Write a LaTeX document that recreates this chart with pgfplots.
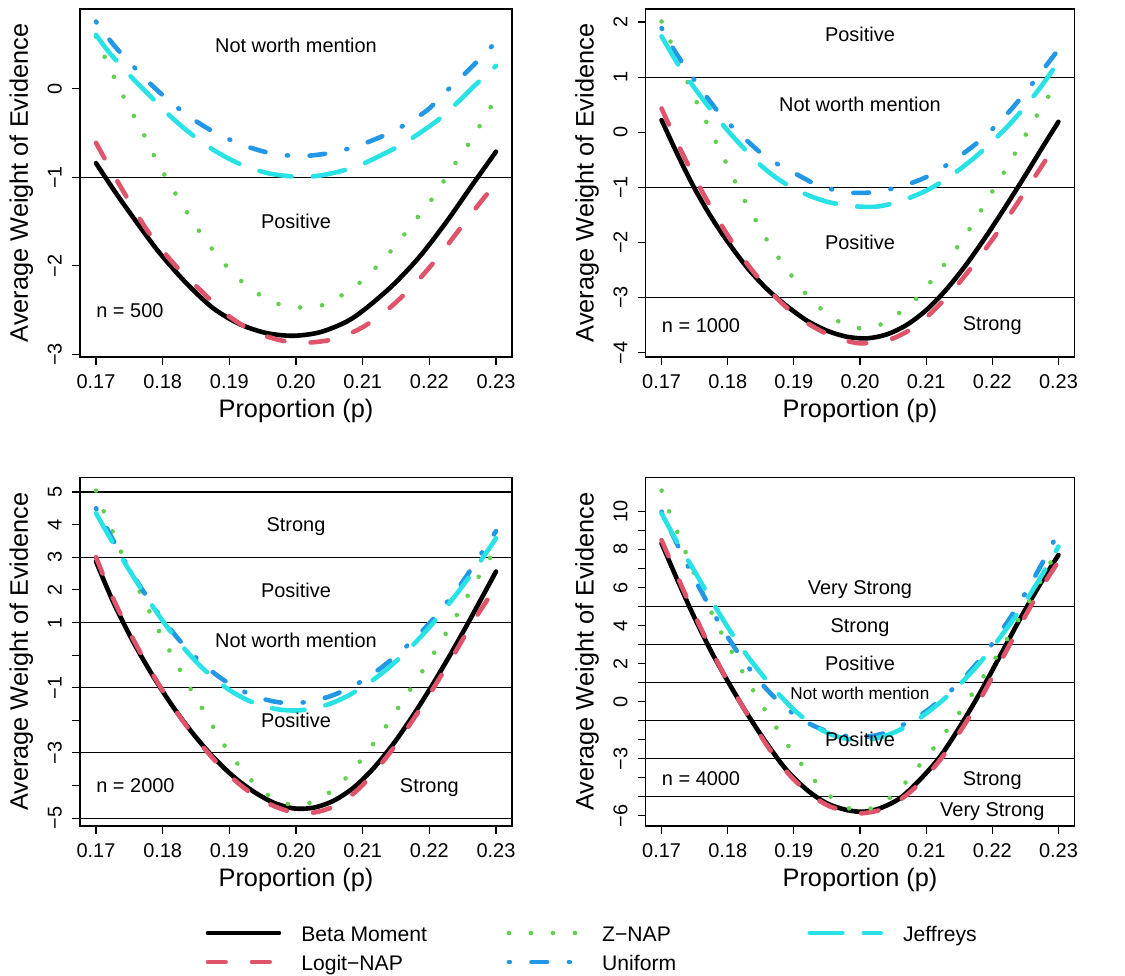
\documentclass[border=0pt]{standalone}
\usepackage{fontspec}
\setmainfont{Liberation Sans}
\usepackage{pgfplots}
\pgfplotsset{compat=1.18}
\definecolor{cRed}{HTML}{DF536B}
\definecolor{cGreen}{HTML}{61D04F}
\definecolor{cBlue}{HTML}{2297E6}
\definecolor{cCyan}{HTML}{28E2E5}
\tikzset{
  sBeta/.style={black, line width=2.3bp, line cap=round, line join=round},
  sLogit/.style={cRed, line width=2.3bp, line cap=round, dash pattern=on 8.8bp off 13.2bp},
  sZ/.style={cGreen, line width=2.3bp, line cap=round, dash pattern=on 0bp off 11bp},
  sUnif/.style={cBlue, line width=2.3bp, line cap=round, dash pattern=on 0.5bp off 10.8bp on 7.8bp off 10.9bp},
  sJeff/.style={cCyan, line width=2.3bp, line cap=round, dash pattern=on 16.3bp off 10.7bp},
  hline/.style={black, line width=0.55bp},
  ann/.style={font=\fontsize{10}{12}\selectfont, inner sep=0pt, text height=7.2bp, text depth=0pt},
}
\pgfplotsset{
  panel/.style={
    anchor=south west, scale only axis,
    xmin=0.1676, xmax=0.2324,
    xtick={0.17,0.18,0.19,0.2,0.21,0.22,0.23},
    xticklabels={0.17,0.18,0.19,0.20,0.21,0.22,0.23},
    tick pos=left, tick align=outside, major tick length=4bp,
    axis line style={line width=0.55bp},
    every tick/.style={black, line width=0.55bp},
    tick label style={font=\fontsize{10}{12}\selectfont},
    xticklabel style={anchor=base, inner sep=0pt},
    xticklabel shift=11.7bp,
    yticklabel style={rotate=90, anchor=base, inner sep=0pt},
    yticklabel shift=5.2bp,
    label style={font=\fontsize{12.7}{15}\selectfont},
    xlabel={Proportion (p)},
    ylabel={Average Weight of Evidence},
    xlabel style={at={([yshift=-30bp]axis description cs:0.5,0)}, anchor=base},
    ylabel style={at={([xshift=-26bp]axis description cs:0,0.5)}, anchor=base},
    clip=true,
  },
}
\begin{document}
\begin{tikzpicture}
\useasboundingbox (0,0) rectangle (562.5bp,-488bp);

% ---------------- Panel 1: n = 500
\begin{axis}[panel, at={(40bp,-178.5bp)}, width=216bp, height=174bp,
  ymin=-3.03, ymax=0.902, ytick={-3,-2,-1,0}, yticklabels={−3,−2,−1,0}]
\addplot[hline, forget plot] coordinates {(0.16,-1) (0.24,-1)};
\addplot[sBeta, smooth] coordinates {(0.1700,-0.84) (0.1731,-1.19) (0.1766,-1.56) (0.1796,-1.86) (0.1836,-2.20) (0.1876,-2.48) (0.1916,-2.66) (0.1956,-2.76) (0.1996,-2.79) (0.2036,-2.75) (0.2076,-2.63) (0.2105,-2.48) (0.2145,-2.22) (0.2185,-1.90) (0.2225,-1.51) (0.2265,-1.08) (0.2300,-0.71)};
\addplot[sLogit, smooth] coordinates {(0.1700,-0.61) (0.1731,-1.03) (0.1776,-1.59) (0.1816,-1.97) (0.1856,-2.27) (0.1896,-2.55) (0.1936,-2.74) (0.1976,-2.84) (0.2011,-2.87) (0.2056,-2.83) (0.2096,-2.71) (0.2135,-2.51) (0.2175,-2.23) (0.2210,-1.93) (0.2245,-1.59) (0.2280,-1.25) (0.2300,-1.07)};
\addplot[sZ, smooth] coordinates {(0.1700,0.59) (0.1713,0.36) (0.1726,0.15) (0.1740,-0.07) (0.1755,-0.28) (0.1770,-0.49) (0.1784,-0.71) (0.1799,-0.92) (0.1815,-1.13) (0.1831,-1.33) (0.1848,-1.53) (0.1866,-1.73) (0.1885,-1.91) (0.1906,-2.09) (0.1929,-2.24) (0.1955,-2.37) (0.1982,-2.45) (0.2012,-2.47) (0.2042,-2.44) (0.2069,-2.33) (0.2094,-2.20) (0.2117,-2.04) (0.2138,-1.87) (0.2158,-1.69) (0.2177,-1.50) (0.2197,-1.32) (0.2215,-1.12) (0.2232,-0.92) (0.2249,-0.73) (0.2267,-0.53) (0.2283,-0.32) (0.2300,-0.11)};
\addplot[sUnif, smooth] coordinates {(0.1700,0.76) (0.1726,0.50) (0.1754,0.27) (0.1784,0.04) (0.1815,-0.17) (0.1851,-0.37) (0.1885,-0.52) (0.1926,-0.65) (0.1964,-0.73) (0.2006,-0.76) (0.2047,-0.73) (0.2086,-0.66) (0.2125,-0.55) (0.2160,-0.42) (0.2197,-0.24) (0.2228,-0.01) (0.2260,0.22) (0.2300,0.53)};
\addplot[sJeff, smooth] coordinates {(0.1700,0.61) (0.1721,0.40) (0.1756,0.11) (0.1781,-0.08) (0.1806,-0.27) (0.1836,-0.47) (0.1876,-0.69) (0.1916,-0.85) (0.1956,-0.95) (0.1996,-0.99) (0.2036,-0.98) (0.2086,-0.89) (0.2125,-0.76) (0.2165,-0.60) (0.2210,-0.37) (0.2240,-0.17) (0.2267,0.03) (0.2300,0.26)};
\node[ann] at (axis cs:0.2,0.49) {Not worth mention};
\node[ann] at (axis cs:0.2,-1.5) {Positive};
\node[ann, anchor=west] at (axis cs:0.17,-2.5) {n = 500};
\end{axis}

% ---------------- Panel 2: n = 1000
\begin{axis}[panel, at={(322.85bp,-178.5bp)}, width=214.3bp, height=174bp,
  ymin=-4.078, ymax=2.236, ytick={-4,-3,-2,-1,0,1,2}, yticklabels={−4,−3,−2,−1,0,1,2}]
\addplot[hline, forget plot] coordinates {(0.16,1) (0.24,1)};
\addplot[hline, forget plot] coordinates {(0.16,-1) (0.24,-1)};
\addplot[hline, forget plot] coordinates {(0.16,-3) (0.24,-3)};
\addplot[sBeta, smooth] coordinates {(0.1700,0.22) (0.1724,-0.40) (0.1749,-1.00) (0.1774,-1.52) (0.1799,-1.97) (0.1829,-2.45) (0.1859,-2.84) (0.1889,-3.15) (0.1920,-3.42) (0.1950,-3.60) (0.1980,-3.71) (0.2010,-3.74) (0.2040,-3.67) (0.2070,-3.50) (0.2100,-3.23) (0.2130,-2.86) (0.2160,-2.41) (0.2190,-1.90) (0.2220,-1.35) (0.2250,-0.78) (0.2275,-0.29) (0.2300,0.19)};
\addplot[sLogit, smooth] coordinates {(0.1700,0.43) (0.1724,-0.20) (0.1749,-0.80) (0.1774,-1.35) (0.1799,-1.85) (0.1829,-2.38) (0.1859,-2.82) (0.1889,-3.18) (0.1920,-3.46) (0.1950,-3.66) (0.1975,-3.77) (0.2000,-3.83) (0.2030,-3.80) (0.2050,-3.74) (0.2075,-3.59) (0.2100,-3.36) (0.2125,-3.07) (0.2150,-2.73) (0.2175,-2.35) (0.2200,-1.95) (0.2225,-1.52) (0.2250,-1.07) (0.2275,-0.61) (0.2300,-0.15)};
\addplot[sZ, smooth] coordinates {(0.1700,2.01) (0.1713,1.66) (0.1738,0.95) (0.1751,0.60) (0.1765,0.25) (0.1779,-0.10) (0.1793,-0.44) (0.1807,-0.79) (0.1821,-1.14) (0.1837,-1.48) (0.1852,-1.81) (0.1869,-2.14) (0.1887,-2.45) (0.1906,-2.75) (0.1926,-3.04) (0.1949,-3.28) (0.1975,-3.48) (0.2004,-3.56) (0.2033,-3.48) (0.2059,-3.28) (0.2082,-3.06) (0.2103,-2.77) (0.2123,-2.47) (0.2142,-2.17) (0.2160,-1.86) (0.2177,-1.54) (0.2193,-1.21) (0.2210,-0.88) (0.2226,-0.56) (0.2242,-0.22) (0.2258,0.11) (0.2274,0.44) (0.2291,0.77) (0.2300,0.95)};
\addplot[sUnif, smooth] coordinates {(0.1700,1.89) (0.1719,1.49) (0.1746,1.01) (0.1779,0.47) (0.1800,0.18) (0.1839,-0.26) (0.1864,-0.50) (0.1910,-0.80) (0.1938,-0.97) (0.1980,-1.09) (0.2019,-1.09) (0.2060,-0.99) (0.2099,-0.82) (0.2133,-0.58) (0.2169,-0.27) (0.2196,0.01) (0.2229,0.42) (0.2261,0.89) (0.2284,1.25) (0.2300,1.50)};
\addplot[sJeff, smooth] coordinates {(0.1700,1.74) (0.1725,1.23) (0.1750,0.80) (0.1775,0.40) (0.1800,0.03) (0.1825,-0.30) (0.1850,-0.60) (0.1875,-0.84) (0.1900,-1.02) (0.1925,-1.16) (0.1950,-1.26) (0.1975,-1.32) (0.2000,-1.35) (0.2025,-1.35) (0.2050,-1.29) (0.2075,-1.19) (0.2100,-1.06) (0.2125,-0.89) (0.2150,-0.68) (0.2175,-0.44) (0.2200,-0.17) (0.2225,0.13) (0.2250,0.47) (0.2275,0.85) (0.2300,1.28)};
\node[ann] at (axis cs:0.2,1.78) {Positive};
\node[ann] at (axis cs:0.2,0.5) {Not worth mention};
\node[ann] at (axis cs:0.2,-2) {Positive};
\node[ann, anchor=west] at (axis cs:0.17,-3.5) {n = 1000};
\node[ann] at (axis cs:0.22,-3.47) {Strong};
\end{axis}

% ---------------- Panel 3: n = 2000
\begin{axis}[panel, at={(40bp,-413bp)}, width=216bp, height=174.35bp,
  ymin=-5.24, ymax=5.45, ytick={-5,-4,-3,-2,-1,0,1,2,3,4,5}, yticklabels={−5,{},−3,{},−1,{},1,2,3,4,5}]
\addplot[hline, forget plot] coordinates {(0.16,5) (0.24,5)};
\addplot[hline, forget plot] coordinates {(0.16,3) (0.24,3)};
\addplot[hline, forget plot] coordinates {(0.16,1) (0.24,1)};
\addplot[hline, forget plot] coordinates {(0.16,-1) (0.24,-1)};
\addplot[hline, forget plot] coordinates {(0.16,-3) (0.24,-3)};
\addplot[hline, forget plot] coordinates {(0.16,-5) (0.24,-5)};
\addplot[sBeta, smooth] coordinates {(0.1700,2.87) (0.1726,1.62) (0.1756,0.40) (0.1786,-0.66) (0.1816,-1.60) (0.1846,-2.42) (0.1876,-3.13) (0.1906,-3.72) (0.1936,-4.18) (0.1966,-4.52) (0.1996,-4.70) (0.2026,-4.68) (0.2056,-4.47) (0.2086,-4.07) (0.2115,-3.50) (0.2145,-2.75) (0.2175,-1.87) (0.2205,-0.90) (0.2235,0.14) (0.2265,1.24) (0.2300,2.56)};
\addplot[sLogit, smooth] coordinates {(0.1700,3.00) (0.1726,1.72) (0.1756,0.48) (0.1786,-0.62) (0.1816,-1.60) (0.1846,-2.45) (0.1876,-3.18) (0.1906,-3.80) (0.1936,-4.28) (0.1966,-4.62) (0.1996,-4.82) (0.2026,-4.83) (0.2056,-4.65) (0.2086,-4.25) (0.2115,-3.65) (0.2145,-2.88) (0.2175,-2.00) (0.2205,-1.05) (0.2235,-0.05) (0.2265,1.00) (0.2300,2.10)};
\addplot[sZ, smooth] coordinates {(0.1700,5.04) (0.1711,4.43) (0.1724,3.84) (0.1736,3.24) (0.1750,2.64) (0.1763,2.05) (0.1777,1.47) (0.1791,0.87) (0.1806,0.30) (0.1821,-0.27) (0.1836,-0.83) (0.1852,-1.39) (0.1869,-1.96) (0.1885,-2.52) (0.1902,-3.06) (0.1921,-3.55) (0.1942,-4.03) (0.1967,-4.41) (0.1995,-4.59) (0.2024,-4.51) (0.2051,-4.20) (0.2074,-3.79) (0.2094,-3.31) (0.2113,-2.80) (0.2132,-2.27) (0.2149,-1.75) (0.2166,-1.22) (0.2184,-0.67) (0.2201,-0.13) (0.2218,0.43) (0.2234,0.98) (0.2250,1.54) (0.2265,2.10) (0.2282,2.66) (0.2298,3.22) (0.2300,3.25)};
\addplot[sUnif, smooth] coordinates {(0.1700,4.50) (0.1725,3.55) (0.1750,2.65) (0.1775,1.83) (0.1800,1.10) (0.1825,0.46) (0.1850,-0.08) (0.1875,-0.52) (0.1900,-0.88) (0.1925,-1.15) (0.1950,-1.34) (0.1975,-1.45) (0.2000,-1.47) (0.2025,-1.41) (0.2050,-1.27) (0.2075,-1.06) (0.2100,-0.78) (0.2125,-0.43) (0.2150,-0.02) (0.2175,0.45) (0.2200,0.97) (0.2225,1.58) (0.2250,2.25) (0.2275,3.02) (0.2300,3.80)};
\addplot[sJeff, smooth] coordinates {(0.1700,4.35) (0.1725,3.45) (0.1750,2.60) (0.1775,1.80) (0.1800,1.05) (0.1825,0.38) (0.1850,-0.20) (0.1875,-0.68) (0.1900,-1.07) (0.1925,-1.36) (0.1950,-1.56) (0.1975,-1.67) (0.2000,-1.70) (0.2025,-1.64) (0.2050,-1.50) (0.2075,-1.28) (0.2100,-0.98) (0.2125,-0.62) (0.2150,-0.19) (0.2175,0.30) (0.2200,0.85) (0.2225,1.46) (0.2250,2.12) (0.2275,2.83) (0.2300,3.58)};
\node[ann] at (axis cs:0.2,4) {Strong};
\node[ann] at (axis cs:0.2,2) {Positive};
\node[ann] at (axis cs:0.2,0.46) {Not worth mention};
\node[ann] at (axis cs:0.2,-2) {Positive};
\node[ann, anchor=west] at (axis cs:0.17,-4) {n = 2000};
\node[ann] at (axis cs:0.22,-4) {Strong};
\end{axis}

% ---------------- Panel 4: n = 4000
\begin{axis}[panel, at={(322.85bp,-413bp)}, width=214.3bp, height=174.35bp,
  ymin=-6.53, ymax=11.79, ytick={-6,-5,...,10}, yticklabels={−6,{},{},−3,{},{},0,{},2,{},4,{},6,{},8,{},10}]
\addplot[hline, forget plot] coordinates {(0.16,5) (0.24,5)};
\addplot[hline, forget plot] coordinates {(0.16,3) (0.24,3)};
\addplot[hline, forget plot] coordinates {(0.16,1) (0.24,1)};
\addplot[hline, forget plot] coordinates {(0.16,-1) (0.24,-1)};
\addplot[hline, forget plot] coordinates {(0.16,-3) (0.24,-3)};
\addplot[hline, forget plot] coordinates {(0.16,-5) (0.24,-5)};
\addplot[sBeta, smooth] coordinates {(0.1700,8.32) (0.1724,6.39) (0.1749,4.47) (0.1774,2.71) (0.1799,1.14) (0.1829,-0.61) (0.1859,-2.19) (0.1889,-3.59) (0.1920,-4.64) (0.1950,-5.34) (0.1980,-5.69) (0.2005,-5.78) (0.2030,-5.60) (0.2060,-5.08) (0.2090,-4.12) (0.2121,-2.89) (0.2151,-1.31) (0.2181,0.44) (0.2211,2.36) (0.2241,4.29) (0.2271,6.10) (0.2300,7.71)};
\addplot[sLogit, smooth] coordinates {(0.1700,8.49) (0.1724,6.57) (0.1749,4.64) (0.1774,2.80) (0.1799,1.14) (0.1829,-0.61) (0.1859,-2.28) (0.1889,-3.68) (0.1920,-4.73) (0.1950,-5.43) (0.1980,-5.78) (0.2000,-5.87) (0.2030,-5.69) (0.2060,-5.17) (0.2090,-4.29) (0.2121,-3.06) (0.2151,-1.58) (0.2181,0.09) (0.2211,2.01) (0.2241,3.94) (0.2271,5.80) (0.2300,7.36)};
\addplot[sZ, smooth] coordinates {(0.1700,11.09) (0.1711,10.04) (0.1723,9.00) (0.1735,7.97) (0.1747,6.92) (0.1760,5.90) (0.1773,4.87) (0.1787,3.85) (0.1802,2.89) (0.1817,1.91) (0.1833,0.93) (0.1849,-0.02) (0.1866,-0.96) (0.1883,-1.87) (0.1901,-2.80) (0.1921,-3.68) (0.1941,-4.52) (0.1964,-5.22) (0.1991,-5.69) (0.2020,-5.57) (0.2047,-4.99) (0.2069,-4.24) (0.2089,-3.38) (0.2109,-2.54) (0.2128,-1.66) (0.2146,-0.79) (0.2164,0.12) (0.2182,1.07) (0.2199,1.98) (0.2216,2.92) (0.2232,3.87) (0.2248,4.82) (0.2264,5.78) (0.2279,6.74) (0.2295,7.76) (0.2300,8.05)};
\addplot[sUnif, smooth] coordinates {(0.1700,9.98) (0.1725,8.17) (0.1750,6.45) (0.1775,4.85) (0.1800,3.40) (0.1825,2.10) (0.1850,1.00) (0.1875,0.08) (0.1900,-0.65) (0.1925,-1.18) (0.1950,-1.55) (0.1975,-1.78) (0.2000,-1.86) (0.2025,-1.76) (0.2050,-1.48) (0.2075,-1.02) (0.2100,-0.50) (0.2125,0.20) (0.2150,1.00) (0.2175,1.95) (0.2200,3.05) (0.2225,4.30) (0.2250,5.70) (0.2275,7.25) (0.2300,8.90)};
\addplot[sJeff, smooth] coordinates {(0.1700,9.89) (0.1725,8.30) (0.1750,6.85) (0.1775,5.35) (0.1800,3.92) (0.1825,2.63) (0.1850,1.50) (0.1875,0.48) (0.1900,-0.42) (0.1925,-1.13) (0.1950,-1.63) (0.1975,-1.92) (0.2000,-2.01) (0.2025,-1.92) (0.2050,-1.64) (0.2075,-1.20) (0.2100,-0.62) (0.2125,0.08) (0.2150,0.88) (0.2175,1.80) (0.2200,2.85) (0.2225,4.00) (0.2250,5.25) (0.2275,6.65) (0.2300,8.15)};
\node[ann] at (axis cs:0.2,6) {Very Strong};
\node[ann] at (axis cs:0.2,4) {Strong};
\node[ann] at (axis cs:0.2,2) {Positive};
\node[ann, font=\fontsize{8.6}{10}\selectfont, text height=6.2bp] at (axis cs:0.2,0.45) {Not worth mention};
\node[ann] at (axis cs:0.2,-2) {Positive};
\node[ann, anchor=west] at (axis cs:0.17,-4) {n = 4000};
\node[ann] at (axis cs:0.22,-4) {Strong};
\node[ann] at (axis cs:0.22,-5.65) {Very Strong};
\end{axis}

% ---------------- Legend
\begin{axis}[at={(0bp,-488bp)}, anchor=south west, scale only axis, width=562.5bp, height=488bp,
  xmin=0, xmax=1, ymin=0, ymax=1, hide axis,
  legend columns=3, legend cell align=left,
  legend image code/.code={\draw[#1] (0bp,0bp) -- (35.5bp,0bp); \path (45.5bp,0bp);},
  legend style={at={(axis description cs:0.18284,0.05768)}, anchor=north west, draw=none, fill=none,
    inner sep=0pt, outer sep=0pt, row sep=1.2bp, column sep=0pt,
    font=\fontsize{10.6}{12}\selectfont,
    nodes={inner sep=0pt, outer sep=0pt, text height=11bp, text depth=2.3bp}}]
\addlegendimage{sBeta}\addlegendentry{\makebox[102.65bp][l]{Beta Moment}}
\addlegendimage{sZ}\addlegendentry{\makebox[102.65bp][l]{Z−NAP}}
\addlegendimage{sJeff}\addlegendentry{Jeffreys}
\addlegendimage{sLogit}\addlegendentry{Logit−NAP}
\addlegendimage{sUnif}\addlegendentry{Uniform}
\end{axis}
\end{tikzpicture}
\end{document}
